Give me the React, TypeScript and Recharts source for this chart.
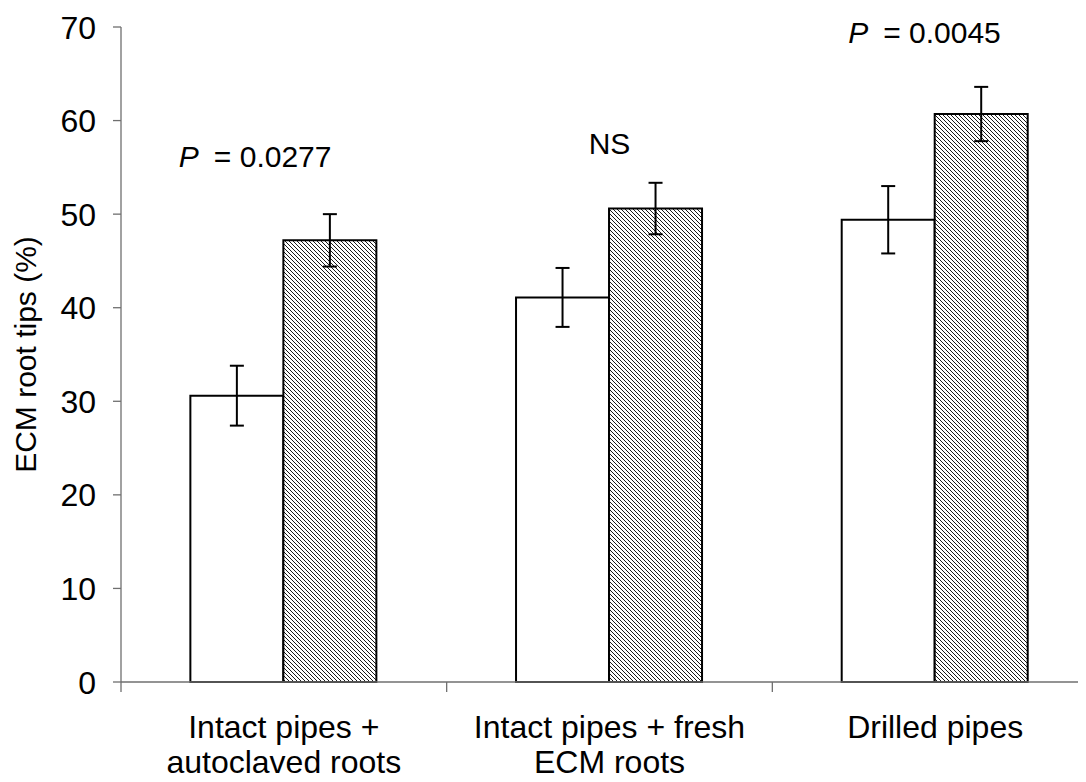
import { BarChart, Bar, XAxis, YAxis, ErrorBar, ReferenceDot } from "recharts"

const categories = ["Intact pipes + autoclaved roots", "Intact pipes + fresh ECM roots", "Drilled pipes"]
const categoryLines = [
  ["Intact pipes +", "autoclaved roots"],
  ["Intact pipes + fresh", "ECM roots"],
  ["Drilled pipes"],
]
const controlValues = [30.6, 41.1, 49.4]
const controlErrors = [3.2, 3.15, 3.6]
const treatedValues = [47.2, 50.6, 60.7]
const treatedErrors = [2.8, 2.75, 2.9]
const yTicks = [0, 10, 20, 30, 40, 50, 60, 70]

// significance notes above each group (y level in data units)
const notePrefix = ["P", "", "P"]
const noteText = ["= 0.0277", "NS", "= 0.0045"]
const noteLevel = [55.0, 56.4, 68.3]

const data = categories.map((c, i) => ({
  name: c,
  control: controlValues[i],
  controlErr: controlErrors[i],
  treated: treatedValues[i],
  treatedErr: treatedErrors[i],
}))

const FONT = '"Liberation Sans", Arial, sans-serif'
const FS = 32
const NOTE_FS = 30
const AXIS = "#6f6f6f"
const CHART_W = 1090
const CHART_H = 774
const Y_AXIS_W = 113
const PLOT_W = CHART_W - Y_AXIS_W
const BAND = PLOT_W / categories.length
const noteDx = [-105, 0, -87]

const XTick = (props: any) => {
  const { x, y, index } = props
  const lines = categoryLines[index] || []
  return (
    <g>
      <line x1={x - BAND / 2} x2={x - BAND / 2} y1={y} y2={y + 10} stroke={AXIS} strokeWidth={1.3} />
      {index === categories.length - 1 && (
        <line x1={x + BAND / 2} x2={x + BAND / 2} y1={y} y2={y + 10} stroke={AXIS} strokeWidth={1.3} />
      )}
      <text textAnchor="middle" fontFamily={FONT} fontSize={FS} fill="#000">
        {lines.map((l, i) => (
          <tspan key={i} x={x} y={y + 56 + i * 35}>
            {l}
          </tspan>
        ))}
      </text>
    </g>
  )
}

const YTick = (props: any) => {
  const { x, y, payload } = props
  return (
    <text x={x} y={y} dy="0.36em" textAnchor="end" fontFamily={FONT} fontSize={FS} fill="#000">
      {payload.value}
    </text>
  )
}

const noteShape = (i: number) => (p: any) => {
  const prefix = notePrefix[i]
  if (!prefix) {
    return (
      <text x={p.cx} y={p.cy} textAnchor="middle" fontFamily={FONT} fontSize={NOTE_FS} fill="#000">
        {noteText[i]}
      </text>
    )
  }
  return (
    <text x={p.cx + noteDx[i]} y={p.cy} fontFamily={FONT} fontSize={NOTE_FS} fill="#000">
      <tspan fontStyle="italic">{prefix}</tspan>
      <tspan dx={15}>{noteText[i]}</tspan>
    </text>
  )
}

export default function App() {
  return (
    <div style={{ width: 1078, height: CHART_H, overflow: "hidden" }}>
      <BarChart
        width={CHART_W}
        height={CHART_H}
        data={data}
        margin={{ top: 19, right: 0, bottom: 0, left: 0 }}
        barCategoryGap="21.3%"
        barGap={0}
      >
        <defs>
          <pattern id="hatch" patternUnits="userSpaceOnUse" width={4} height={4}>
            <rect width={4} height={4} fill="#fff" />
            <path d="M-1,-1 L5,5 M3,-1 L5,1 M-1,3 L1,5" stroke="#1a1a1a" strokeWidth={1} />
          </pattern>
        </defs>
        <XAxis
          dataKey="name"
          height={100}
          tickLine={false}
          tickSize={0}
          tickMargin={0}
          axisLine={{ stroke: AXIS, strokeWidth: 1.3 }}
          tick={<XTick />}
          interval={0}
        />
        <YAxis
          width={Y_AXIS_W}
          domain={[0, 70]}
          ticks={yTicks}
          tickSize={8}
          tickMargin={17}
          tickLine={{ stroke: AXIS, strokeWidth: 1.3 }}
          axisLine={{ stroke: AXIS, strokeWidth: 1.3 }}
          tick={<YTick />}
          interval={0}
          label={{
            content: ({ viewBox }: any) => {
              const cx = viewBox.x + 28
              const cy = viewBox.y + viewBox.height / 2
              return (
                <text
                  x={cx}
                  y={cy}
                  transform={`rotate(-90, ${cx}, ${cy})`}
                  textAnchor="middle"
                  fontFamily={FONT}
                  fontSize={30}
                  fill="#000"
                >
                  ECM root tips (%)
                </text>
              )
            },
          }}
        />
        <Bar dataKey="control" fill="#fff" stroke="#000" strokeWidth={2} isAnimationActive={false}>
          <ErrorBar dataKey="controlErr" width={7} stroke="#000" strokeWidth={2} />
        </Bar>
        <Bar dataKey="treated" fill="url(#hatch)" stroke="#000" strokeWidth={2} isAnimationActive={false}>
          <ErrorBar dataKey="treatedErr" width={7} stroke="#000" strokeWidth={2} />
        </Bar>
        {categories.map((c, i) => (
          <ReferenceDot key={c} x={c} y={noteLevel[i]} r={0} shape={noteShape(i)} />
        ))}
      </BarChart>
    </div>
  )
}
